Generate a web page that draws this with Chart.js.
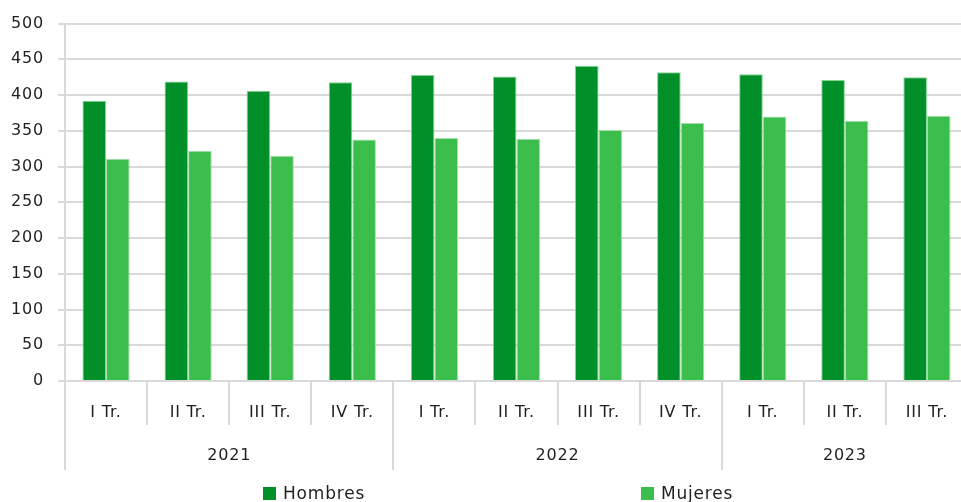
<!DOCTYPE html>
<html><head><meta charset="utf-8">
<script src="https://cdn.jsdelivr.net/npm/chart.js@4"></script>
<style>html,body{margin:0;padding:0;overflow:hidden;background:#fff;width:961px;height:502px}canvas{display:block}</style>
</head><body>
<canvas id="c" width="970" height="502"></canvas>
<script>
const quarterLabels = ['I Tr.','II Tr.','III Tr.','IV Tr.','I Tr.','II Tr.','III Tr.','IV Tr.','I Tr.','II Tr.','III Tr.'];
const years = ['2021','2022','2023'];
const quartersPerYear = [4,4,3];
const hombres = [392,419,406,418,428,426,441,432,429,421,425];
const mujeres = [311,322,315,338,340,339,351,361,370,364,371];
const yTicks = {min:0, max:500, step:50};

const FONT = '"DejaVu Sans", sans-serif';
const TXT = '#1f1f1f';
const GRID = '#d9d9d9';

const spacingPlugin = {
  id:'spacing',
  beforeDraw(chart){ try{ chart.ctx.letterSpacing = '0.8px'; }catch(e){} }
};

const groupPlugin = {
  id:'groups',
  afterDraw(chart){
    const ctx = chart.ctx, ca = chart.chartArea;
    const n = quarterLabels.length;
    const w = (ca.right - ca.left)/n;
    ctx.save();
    ctx.strokeStyle = GRID; ctx.lineWidth = 2;
    const yearBounds = [0]; let acc=0; quartersPerYear.forEach(q=>{acc+=q; yearBounds.push(acc);});
    for(let i=0;i<=n;i++){
      const xx = Math.round(ca.left + i*w);
      const long = yearBounds.includes(i);
      ctx.beginPath(); ctx.moveTo(xx, ca.bottom); ctx.lineTo(xx, ca.bottom + (long?89:44)); ctx.stroke();
    }
    ctx.fillStyle = TXT; ctx.font = '16px ' + FONT; ctx.textAlign='center'; ctx.textBaseline='middle';
    for(let k=0;k<years.length;k++){
      const cx = ca.left + (yearBounds[k]+yearBounds[k+1])/2*w;
      ctx.fillText(years[k], cx, ca.bottom + 75);
    }
    const items = chart.data.datasets;
    const lx = [263, 641];
    ctx.textAlign='left'; ctx.font = '17px ' + FONT;
    items.forEach((ds,i)=>{
      ctx.fillStyle = ds.backgroundColor;
      ctx.fillRect(lx[i], 487, 13, 13);
      ctx.fillStyle = TXT;
      ctx.fillText(ds.label, lx[i]+20, 495);
    });
    ctx.restore();
  }
};

new Chart(document.getElementById('c'), {
  type:'bar',
  data:{
    labels: quarterLabels,
    datasets:[
      {label:'Hombres', data:hombres, backgroundColor:'#008F29', borderColor:'#86d494', borderWidth:1},
      {label:'Mujeres', data:mujeres, backgroundColor:'#3BBE4B', borderColor:'#a6e0ae', borderWidth:1}
    ]
  },
  options:{
    responsive:false, animation:false, devicePixelRatio:1,
    layout:{padding:{top:21, right:2, left:0, bottom:0}},
    plugins:{legend:{display:false}, tooltip:{enabled:false}},
    datasets:{bar:{categoryPercentage:0.575, barPercentage:1}},
    scales:{
      x:{
        grid:{display:false},
        border:{display:true, color:GRID, width:2},
        ticks:{color:TXT, font:{family:FONT, size:16}, padding:14, maxRotation:0, autoSkip:false},
        afterFit(s){ s.height = 121; }
      },
      y:{
        min:yTicks.min, max:yTicks.max,
        grid:{color:GRID, lineWidth:2, tickLength:7},
        border:{display:true, color:GRID, width:2},
        ticks:{stepSize:yTicks.step, color:TXT, font:{family:FONT, size:16}, padding:14},
        afterFit(s){ s.width = 65; }
      }
    }
  },
  plugins:[spacingPlugin, groupPlugin]
});
</script>
</body></html>
